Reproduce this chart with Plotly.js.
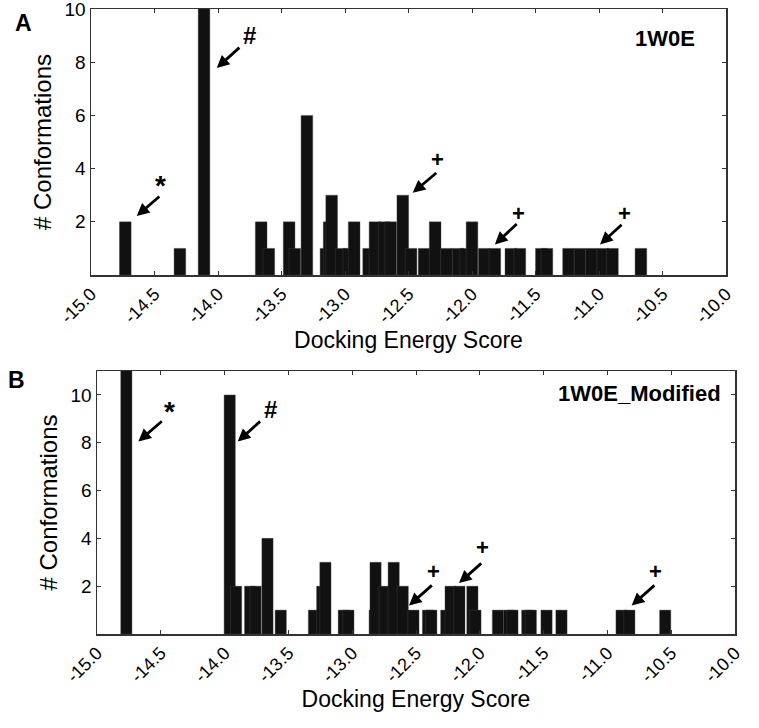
<!DOCTYPE html>
<html>
<head>
<meta charset="utf-8">
<script src="https://cdn.plot.ly/plotly-3.0.1.min.js"></script>
<style>html,body{margin:0;padding:0;background:#fff;}#chart{width:759px;height:728px;}</style>
</head>
<body>
<div id="chart"></div>
<script>
// ---------- Data ----------
// Panel A: 1W0E (bar centre energy, number of conformations)
const energyA = [-14.73, -14.30, -14.11, -13.66, -13.60, -13.44, -13.395, -13.30,
  -13.15, -13.125, -13.105, -13.03, -12.97, -12.928,
  -12.814, -12.764, -12.69, -12.64, -12.545, -12.48,
  -12.377, -12.29, -12.20, -12.11, -12.05, -12.0, -11.904, -11.82,
  -11.694, -11.623, -11.454, -11.41,
  -11.24, -11.15, -11.06, -10.97, -10.894, -10.67];
const countA = [2, 1, 10, 2, 1, 2, 1, 6,
  1, 2, 3, 1, 1, 2,
  1, 2, 2, 2, 3, 1,
  1, 2, 1, 1, 1, 2, 1, 1,
  1, 1, 1, 1,
  1, 1, 1, 1, 1, 1];

// Panel B: 1W0E_Modified
const energyB = [-14.77, -13.96, -13.91, -13.80, -13.757, -13.664, -13.56,
  -13.30, -13.235, -13.21, -13.066, -13.03,
  -12.824, -12.817, -12.746, -12.675, -12.604, -12.52,
  -12.406, -12.38, -12.263, -12.229, -12.16, -12.058, -12.034,
  -11.858, -11.77, -11.744, -11.628, -11.60, -11.477, -11.36,
  -10.889, -10.828, -10.547];
const countB = [15, 10, 2, 2, 2, 4, 1,
  1, 2, 3, 1, 1,
  1, 3, 2, 3, 2, 1,
  1, 1, 1, 2, 2, 2, 1,
  1, 1, 1, 1, 1, 1, 1,
  1, 1, 1];

// Axis ticks
const xTickVals = [-15.0, -14.5, -14.0, -13.5, -13.0, -12.5, -12.0, -11.5, -11.0, -10.5, -10.0];
const xTickText = ["-15.0", "-14.5", "-14.0", "-13.5", "-13.0", "-12.5", "-12.0", "-11.5", "-11.0", "-10.5", "-10.0"];
const yTickVals = [2, 4, 6, 8, 10];
const yTickText = ["2", "4", "6", "8", "10"];

// Marker arrows: [symbol, headX, headY, tailX, tailY, labelX, labelY]
const marksA = [
  ["*", -14.64, 2.22, -14.45, 3.0, -14.45, 3.35],
  ["#", -14.01, 7.78, -13.82, 8.6, -13.754, 9.0],
  ["+", -12.467, 3.09, -12.27, 3.88, -12.273, 4.35],
  ["+", -11.82, 1.15, -11.636, 1.97, -11.63, 2.3],
  ["+", -10.992, 1.15, -10.81, 1.94, -10.803, 2.3]
];
const marksB = [
  ["*", -14.676, 8.05, -14.48, 8.95, -14.428, 9.3],
  ["#", -13.897, 8.05, -13.71, 8.95, -13.644, 9.4],
  ["+", -12.555, 1.19, -12.364, 2.09, -12.364, 2.6],
  ["+", -12.163, 2.13, -11.977, 3.01, -11.98, 3.6],
  ["+", -10.81, 1.19, -10.62, 2.09, -10.62, 2.6]
];

const panelNameA = "1W0E";
const panelNameB = "1W0E_Modified";

// ---------- Plot ----------
const FONT = "Liberation Sans, Arial, sans-serif";
const barColor = "#111111";
const barStyle = {color: barColor, line: {color: "rgba(70,70,70,1)", width: 0.4}};

const traces = [
  {type: "bar", x: energyA, y: countA, width: 0.092, marker: barStyle,
   xaxis: "x", yaxis: "y", showlegend: false, hoverinfo: "x+y"},
  {type: "bar", x: energyB, y: countB, width: 0.088, marker: barStyle,
   xaxis: "x2", yaxis: "y2", showlegend: false, hoverinfo: "x+y"}
];

function xAxis(domain, anchor) {
  return {
    domain: domain, anchor: anchor, range: [-15, -10],
    tickmode: "array", tickvals: xTickVals, ticktext: xTickText,
    tickangle: -45, ticks: "inside", ticklen: 4, tickcolor: "#333",
    showline: true, linecolor: "#333", linewidth: 1.5, mirror: "ticks",
    showgrid: false, zeroline: false, ticklabeloverflow: "allow",
    tickfont: {family: FONT, size: 18, color: "#000"},
    title: {text: "Docking Energy Score", font: {family: FONT, size: 23, color: "#000"}, standoff: 4}
  };
}
function yAxis(domain, anchor, top) {
  return {
    domain: domain, anchor: anchor, range: [0, top],
    tickmode: "array", tickvals: yTickVals, ticktext: yTickText,
    ticks: "inside", ticklen: 4, tickcolor: "#333", ticksuffix: "\u00a0",
    showline: true, linecolor: "#333", linewidth: 1.5, mirror: "ticks",
    showgrid: false, zeroline: false, ticklabeloverflow: "allow",
    tickfont: {family: FONT, size: 19, color: "#000"},
    title: {text: "# Conformations", font: {family: FONT, size: 24, color: "#000"}, standoff: 6}
  };
}

function markAnnotations(marks, xr, yr) {
  const out = [];
  marks.forEach(m => {
    out.push({xref: xr, yref: yr, axref: xr, ayref: yr,
      x: m[1], y: m[2], ax: m[3], ay: m[4], text: "",
      showarrow: true, arrowhead: 2, arrowsize: 0.9, arrowwidth: 2.8, arrowcolor: "#000"});
    out.push({xref: xr, yref: yr, x: m[5], y: m[6], text: "<b>" + m[0] + "</b>",
      showarrow: false, xanchor: "center", yanchor: "middle",
      font: {family: FONT, size: m[0] === "+" ? 22 : (m[0] === "*" ? 28 : 24), color: "#000"}});
  });
  return out;
}

const annotations = [].concat(
  markAnnotations(marksA, "x", "y"),
  markAnnotations(marksB, "x2", "y2"),
  [
    {xref: "paper", yref: "paper", x: 697/759, y: 1 - 38/728, xanchor: "right", yanchor: "middle",
     text: "<b>" + panelNameA + "</b>", showarrow: false, font: {family: FONT, size: 22, color: "#000"}},
    {xref: "paper", yref: "paper", x: 723/759, y: 1 - 393/728, xanchor: "right", yanchor: "middle",
     text: "<b>" + panelNameB + "</b>", showarrow: false, font: {family: FONT, size: 22, color: "#000"}},
    {xref: "paper", yref: "paper", x: 23/759, y: 1 - 23/728, xanchor: "center", yanchor: "middle",
     text: "<b>A</b>", showarrow: false, font: {family: FONT, size: 23, color: "#000"}},
    {xref: "paper", yref: "paper", x: 16/759, y: 1 - 380/728, xanchor: "center", yanchor: "middle",
     text: "<b>B</b>", showarrow: false, font: {family: FONT, size: 23, color: "#000"}}
  ]
);

const layout = {
  width: 759, height: 728,
  margin: {l: 0, r: 0, t: 0, b: 0},
  paper_bgcolor: "#fff", plot_bgcolor: "#fff",
  barmode: "overlay", bargap: 0,
  font: {family: FONT, color: "#000"},
  xaxis: xAxis([91/759, 726/759], "y"),
  yaxis: yAxis([1 - 275/728, 1 - 9/728], "x", 10),
  xaxis2: xAxis([97/759, 735/759], "y2"),
  yaxis2: yAxis([1 - 634/728, 1 - 371/728], "x2", 11),
  annotations: annotations
};

Plotly.newPlot("chart", traces, layout, {staticPlot: true, displayModeBar: false});
</script>
</body>
</html>
